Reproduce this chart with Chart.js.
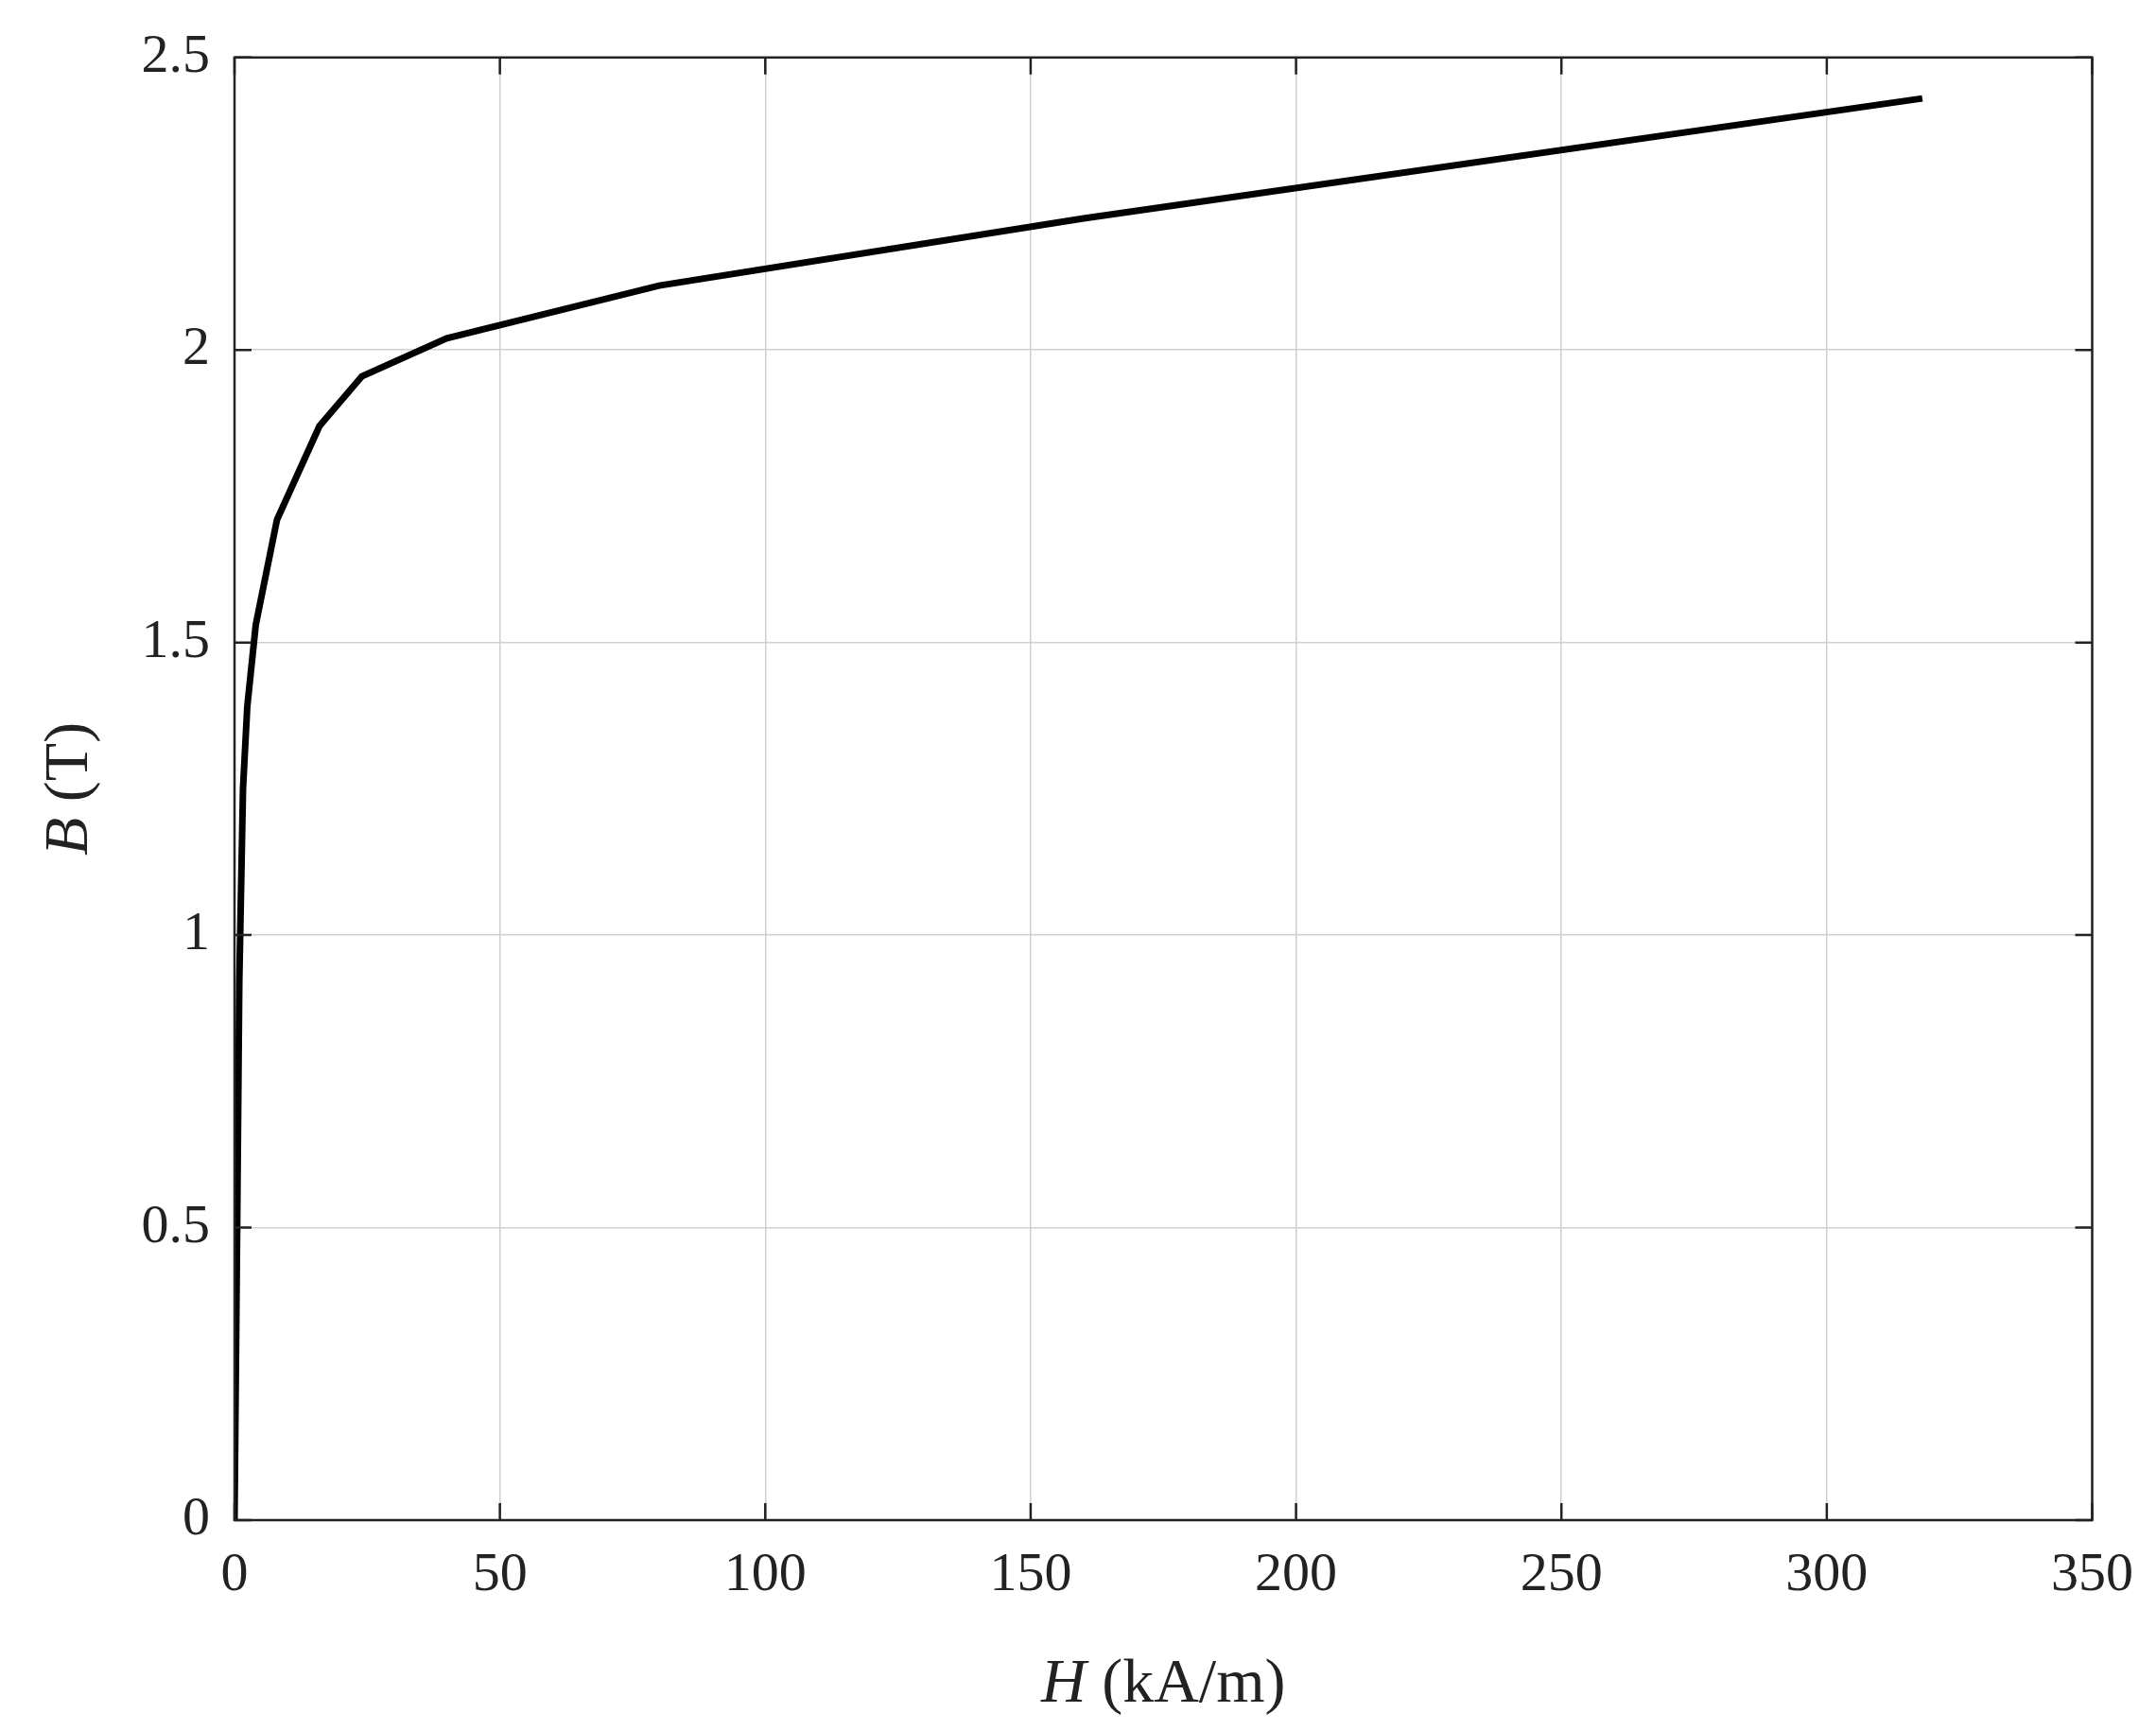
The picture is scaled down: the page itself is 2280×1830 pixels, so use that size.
<!DOCTYPE html>
<html><head><style>html,body{margin:0;background:#fff}#w{width:2280px;height:1830px}</style>
<script src="https://cdn.jsdelivr.net/npm/chart.js@4"></script></head>
<body><div id="w"><canvas id="c"></canvas></div>
<script>
const H = [0, 0.5, 0.9, 1.6, 2.4, 4, 8, 16, 24, 40, 80, 160, 318];
const B = [0, 0.5, 0.92, 1.25, 1.39, 1.53, 1.71, 1.87, 1.955, 2.02, 2.11, 2.225, 2.43];
const xTicks = [0, 50, 100, 150, 200, 250, 300, 350];
const yTicks = [0, 0.5, 1, 1.5, 2, 2.5];
const FONT = 'Liberation Serif';
const extra = {
  id: 'extra',
  afterDraw(ch) {
    const c = ch.ctx, a = ch.chartArea, xs = ch.scales.x, ys = ch.scales.y;
    c.save();
    c.strokeStyle = '#222'; c.lineWidth = 2.5;
    xTicks.forEach(v => { const p = xs.getPixelForValue(v);
      c.beginPath(); c.moveTo(p, a.bottom); c.lineTo(p, a.bottom - 18); c.moveTo(p, a.top); c.lineTo(p, a.top + 18); c.stroke(); });
    yTicks.forEach(v => { const p = ys.getPixelForValue(v);
      c.beginPath(); c.moveTo(a.left, p); c.lineTo(a.left + 18, p); c.moveTo(a.right, p); c.lineTo(a.right - 18, p); c.stroke(); });
    c.strokeRect(a.left, a.top, a.right - a.left, a.bottom - a.top);
    c.fillStyle = '#222'; c.textBaseline = 'alphabetic';
    const mixed = (parts, x, y) => {
      let w = 0; parts.forEach(p => { c.font = p[1] + ' 66px "' + FONT + '"'; w += c.measureText(p[0]).width; });
      let cx = x - w / 2;
      parts.forEach(p => { c.font = p[1] + ' 66px "' + FONT + '"'; c.fillText(p[0], cx, y); cx += c.measureText(p[0]).width; });
    };
    mixed([['H', 'italic'], [' (kA/m)', 'normal']], (a.left + a.right) / 2, 1800);
    c.translate(92, (a.top + a.bottom) / 2); c.rotate(-Math.PI / 2);
    mixed([['B', 'italic'], [' (T)', 'normal']], 0, 0);
    c.restore();
  }
};
new Chart(document.getElementById('c'), {
  type: 'scatter',
  data: { datasets: [{ data: H.map((h, i) => ({ x: h, y: B[i] })), showLine: true,
    borderColor: '#000', borderWidth: 7, pointRadius: 0, fill: false }] },
  options: {
    responsive: true, maintainAspectRatio: false, animation: false, devicePixelRatio: 1,
    layout: { padding: { left: 0, top: 58, right: 66, bottom: 0 } },
    plugins: { legend: { display: false }, tooltip: { enabled: false } },
    scales: {
      x: { type: 'linear', min: 0, max: 350, afterFit: s => { s.height = 222; },
        afterBuildTicks: s => { s.ticks = xTicks.map(v => ({ value: v })); },
        grid: { color: '#d0d0d0', lineWidth: 1.5, drawTicks: false }, border: { display: false },
        ticks: { padding: 24, color: '#222', font: { family: FONT, size: 58 } } },
      y: { type: 'linear', min: 0, max: 2.5, afterFit: s => { s.width = 248; },
        afterBuildTicks: s => { s.ticks = yTicks.map(v => ({ value: v })); },
        grid: { color: '#d0d0d0', lineWidth: 1.5, drawTicks: false }, border: { display: false },
        ticks: { padding: 26, color: '#222', font: { family: FONT, size: 58 }, callback: v => String(v) } }
    }
  },
  plugins: [extra]
});
</script></body></html>
